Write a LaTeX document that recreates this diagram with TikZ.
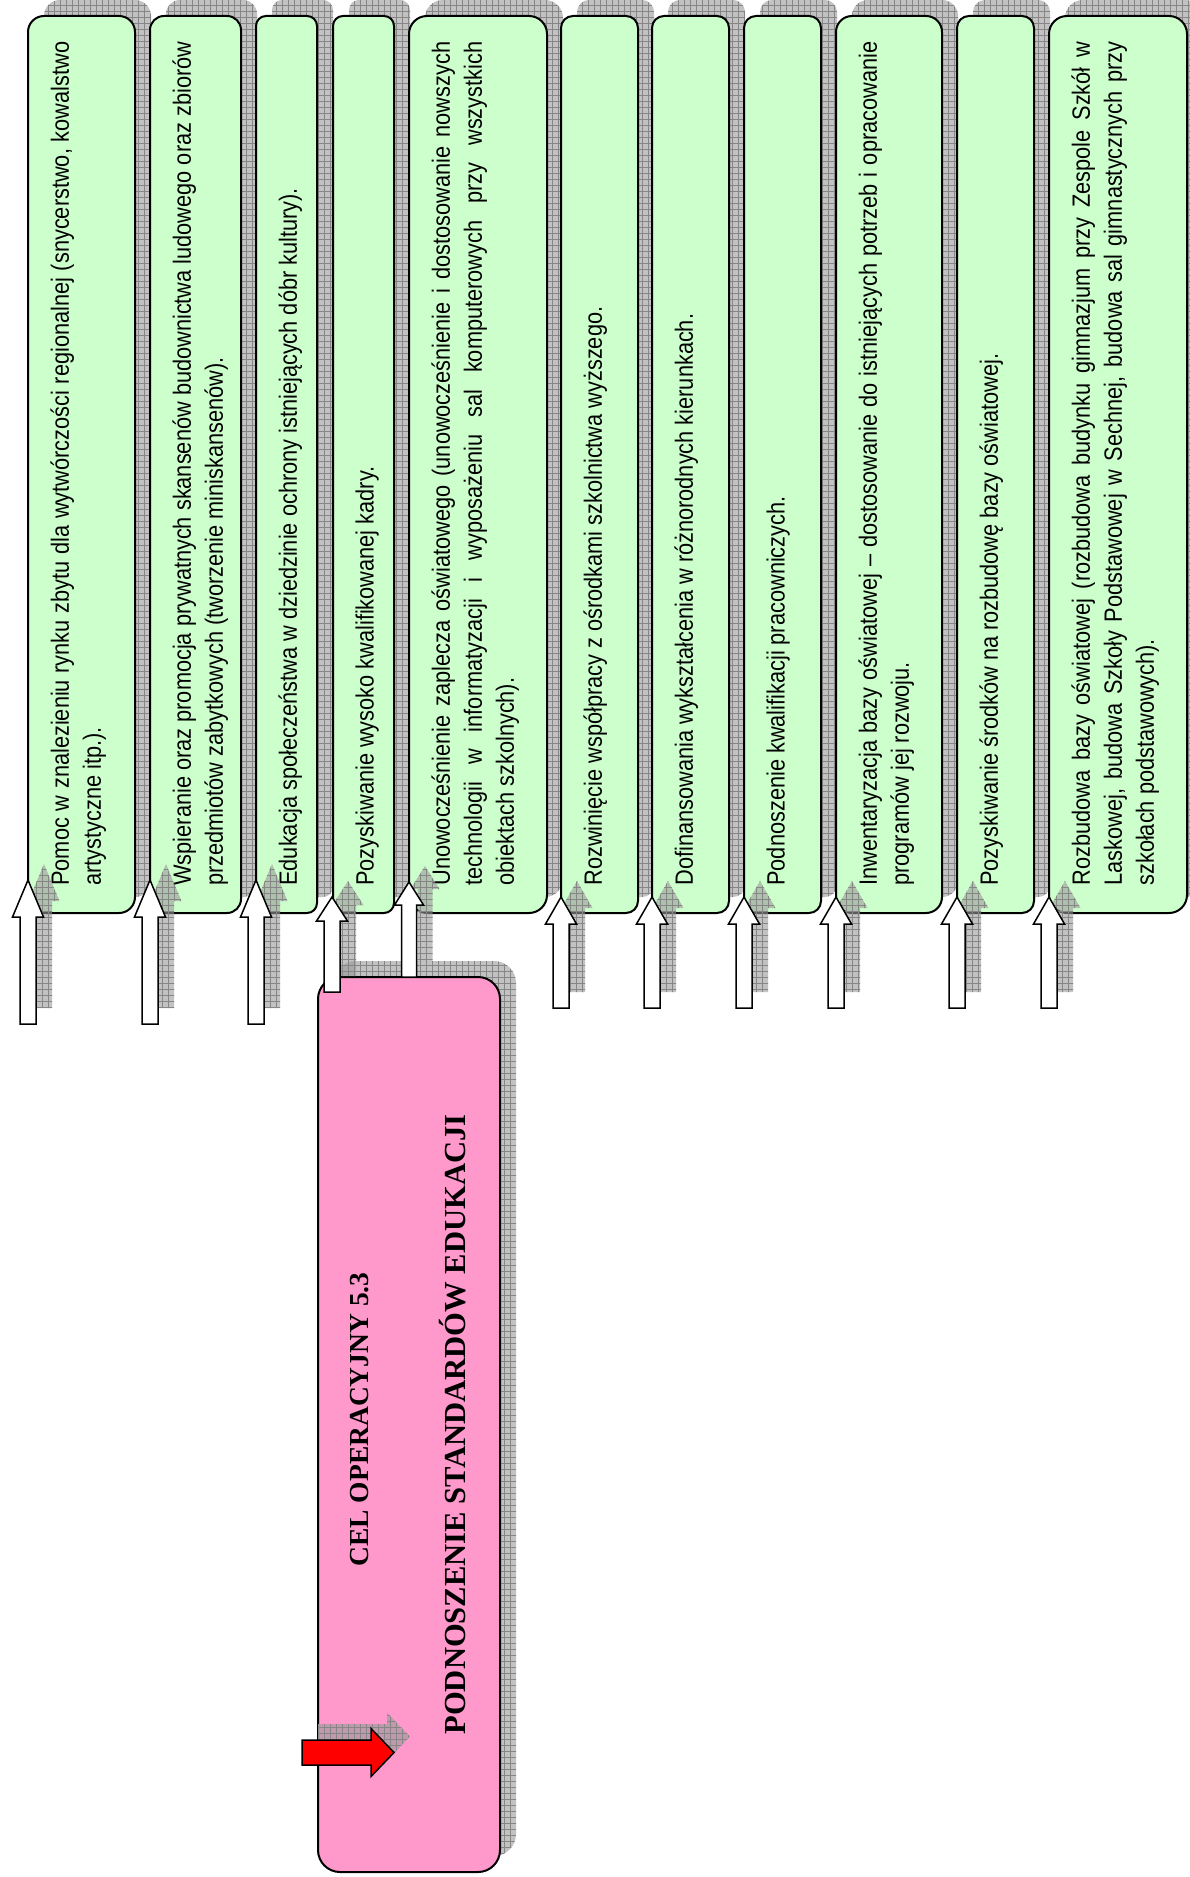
\documentclass[tikz,border=0pt]{standalone}
\usepackage{fontspec}
\setmainfont{Liberation Sans}
\newfontfamily\narrowsans[FakeStretch=0.87]{Liberation Sans}
\newfontfamily\titleserif{Liberation Serif}
\usetikzlibrary{calc,patterns}

\definecolor{taskgreen}{HTML}{CCFFCC}
\definecolor{goalpink}{HTML}{FF99CC}

\tikzstyle{grayshadow} = [preaction={fill=gray!80, fill opacity=0.6, transform canvas={xshift=8pt,yshift=8pt}}, preaction={pattern=grid, pattern color=gray!95, fill opacity=0.6, transform canvas={xshift=8pt,yshift=8pt}}]
\tikzstyle{taskbox} = [rectangle, anchor=north west, minimum height=448.5pt, inner sep=0pt, outer sep=0pt, draw=black, line width=1pt, fill=taskgreen, grayshadow]
\tikzstyle{tasktext} = [rotate=90, anchor=north west, inner sep=0pt, text width=422pt, align=justify, font=\narrowsans\fontsize{12.5pt}{16pt}\selectfont]
\tikzstyle{goalbox} = [rectangle, anchor=north west, minimum width=91pt, minimum height=447.5pt, inner sep=0pt, outer sep=0pt, rounded corners=11pt, draw=black, line width=1pt, fill=goalpink, grayshadow]
\tikzstyle{goaltext} = [rotate=90, anchor=base, inner sep=0pt]
\tikzstyle{blockarrow} = [draw=black, line width=0.75pt, fill=white, grayshadow]

% block arrow pointing up: [style] tip, tail, head length, head half width, shaft half width
\newcommand{\blockup}[6][]{%
  \path[blockarrow,#1] let \p1=(#2), \p2=(#3) in
    (\x1,\y1) -- ({\x1+#5},{\y1-#4}) -- ({\x1+#6},{\y1-#4}) -- ({\x1+#6},\y2)
    -- ({\x1-#6},\y2) -- ({\x1-#6},{\y1-#4}) -- ({\x1-#5},{\y1-#4}) -- cycle;}

\begin{document}
\begin{tikzpicture}[x=0.5pt,y=-0.5pt]
\useasboundingbox (0,0) rectangle (1189,1877);

% tasks
\node (b1) [taskbox, minimum width=53.5pt, rounded corners=8pt] at (28,16) {};
\node (b2) [taskbox, minimum width=45.5pt, rounded corners=7pt] at (150,16) {};
\node (b3) [taskbox, minimum width=30.5pt, rounded corners=5pt] at (256,16) {};
\node (b4) [taskbox, minimum width=30.5pt, rounded corners=5pt] at (333,16) {};
\node (b5) [taskbox, minimum width=69pt, rounded corners=9pt] at (409,16) {};
\node (b6) [taskbox, minimum width=38.5pt, rounded corners=6pt] at (561,16) {};
\node (b7) [taskbox, minimum width=38.5pt, rounded corners=6pt] at (652,16) {};
\node (b8) [taskbox, minimum width=38.5pt, rounded corners=6pt] at (744,16) {};
\node (b9) [taskbox, minimum width=53pt, rounded corners=8pt] at (836,16) {};
\node (b10) [taskbox, minimum width=38.5pt, rounded corners=6pt] at (957,16) {};
\node (b11) [taskbox, minimum width=69pt, rounded corners=9pt] at (1049,16) {};

\node (x1) [tasktext] at ($(b1.south west)+(22,-27)$) {Pomoc w znalezieniu rynku zbytu dla wytwórczości regionalnej (snycerstwo, kowalstwo\linebreak artystyczne itp.).};
\node (x2) [tasktext] at ($(b2.south west)+(22,-27)$) {Wspieranie oraz promocja prywatnych skansenów budownictwa ludowego oraz zbiorów\linebreak przedmiotów zabytkowych (tworzenie miniskansenów).};
\node (x3) [tasktext] at ($(b3.south west)+(22,-27)$) {Edukacja społeczeństwa w dziedzinie ochrony istniejących dóbr kultury).};
\node (x4) [tasktext] at ($(b4.south west)+(22,-27)$) {Pozyskiwanie wysoko kwalifikowanej kadry.};
\node (x5) [tasktext] at ($(b5.south west)+(22,-27)$) {Unowocześnienie zaplecza oświatowego (unowocześnienie i dostosowanie nowszych\linebreak technologii w informatyzacji i wyposażeniu sal komputerowych przy wszystkich\linebreak obiektach szkolnych).};
\node (x6) [tasktext] at ($(b6.south west)+(22,-27)$) {Rozwinięcie współpracy z ośrodkami szkolnictwa wyższego.};
\node (x7) [tasktext] at ($(b7.south west)+(22,-27)$) {Dofinansowania wykształcenia w różnorodnych kierunkach.};
\node (x8) [tasktext] at ($(b8.south west)+(22,-27)$) {Podnoszenie kwalifikacji pracowniczych.};
\node (x9) [tasktext] at ($(b9.south west)+(22,-27)$) {Inwentaryzacja bazy oświatowej – dostosowanie do istniejących potrzeb i opracowanie\linebreak programów jej rozwoju.};
\node (x10) [tasktext] at ($(b10.south west)+(22,-27)$) {Pozyskiwanie środków na rozbudowę bazy oświatowej.};
\node (x11) [tasktext] at ($(b11.south west)+(22,-27)$) {Rozbudowa bazy oświatowej (rozbudowa budynku gimnazjum przy Zespole Szkół w\linebreak Laskowej, budowa Szkoły Podstawowej w Sechnej, budowa sal gimnastycznych przy\linebreak szkołach podstawowych).};

% goal
\node (goal) [goalbox] at (318,977) {};
\node (cel) [goaltext, font=\titleserif\bfseries\fontsize{13.75pt}{16pt}\selectfont] at ($(goal.center)+(-41,-5)$) {CEL OPERACYJNY 5.3};
\node (podn) [goaltext, font=\titleserif\bfseries\fontsize{15.3pt}{18pt}\selectfont] at ($(goal.center)+(56,0)$) {PODNOSZENIE STANDARDÓW EDUKACJI};

%arrows
\coordinate (t1) at ($(b1.south west)+(0,-33)$);
\coordinate (s1) at ($(b1.south west)+(0,111)$);
\coordinate (t2) at ($(b2.south west)+(0,-33)$);
\coordinate (s2) at ($(b2.south west)+(0,111)$);
\coordinate (t3) at ($(b3.south west)+(0,-33)$);
\coordinate (s3) at ($(b3.south west)+(0,111)$);
\blockup{t1}{s1}{18.5pt}{7.75pt}{4pt}
\blockup{t2}{s2}{18.5pt}{7.75pt}{4pt}
\blockup{t3}{s3}{18.5pt}{7.75pt}{4pt}

\coordinate (t4) at ($(b4.south west)+(-1,-16)$);
\coordinate (s4) at ($(goal.north west)+(14,15)$);
\blockup{t4}{s4}{12pt}{7.75pt}{4pt}
\coordinate (t5) at ($(b5.south west)+(0,-31)$);
\blockup{t5}{goal.north}{11.5pt}{7.25pt}{3.75pt}

\foreach \i in {6,...,11}{
  \coordinate (t\i) at ($(b\i.south west)+(0,-16)$);
  \coordinate (s\i) at ($(b\i.south west)+(0,95)$);
  \blockup{t\i}{s\i}{13.5pt}{7.75pt}{4pt}
}

% red arrow into the goal
\coordinate (rtail) at ($(goal.south west)+(-16,-119.5)$);
\coordinate (rtip) at ($(rtail)+(92,0)$);
\path[blockarrow, fill=red] let \p1=(rtip), \p2=(rtail) in
  (\x1,\y1) -- ({\x1-11.5pt},{\y1+12pt}) -- ({\x1-11.5pt},{\y1+6.25pt}) -- (\x2,{\y1+6.25pt})
  -- (\x2,{\y1-6.25pt}) -- ({\x1-11.5pt},{\y1-6.25pt}) -- ({\x1-11.5pt},{\y1-12pt}) -- cycle;

\end{tikzpicture}
\end{document}
